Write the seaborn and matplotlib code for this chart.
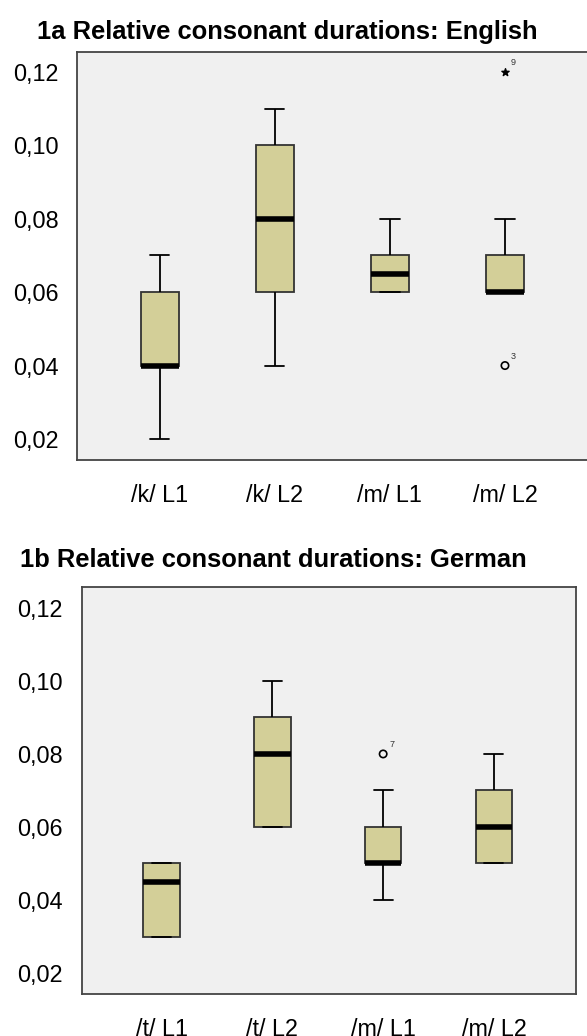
import pandas as pd
import seaborn as sns
import matplotlib.pyplot as plt
import matplotlib.ticker as ticker

# relative consonant durations per group
en_groups = ['/k/ L1', '/k/ L2', '/m/ L1', '/m/ L2']
en_k_l1 = [0.02, 0.04, 0.04, 0.04, 0.06, 0.06, 0.07]
en_k_l2 = [0.04, 0.06, 0.06, 0.08, 0.10, 0.10, 0.11]
en_m_l1 = [0.06, 0.06, 0.06, 0.06, 0.07, 0.07, 0.07, 0.08]
en_m_l2 = [0.04, 0.06, 0.06, 0.06, 0.06, 0.07, 0.07, 0.08, 0.12]

de_groups = ['/t/ L1', '/t/ L2', '/m/ L1', '/m/ L2']
de_t_l1 = [0.03, 0.03, 0.03, 0.04, 0.05, 0.05, 0.05, 0.05]
de_t_l2 = [0.06, 0.06, 0.06, 0.08, 0.09, 0.09, 0.10]
de_m_l1 = [0.04, 0.05, 0.05, 0.05, 0.05, 0.06, 0.06, 0.07, 0.08]
de_m_l2 = [0.05, 0.05, 0.05, 0.06, 0.07, 0.07, 0.08]

# points SPSS flags with case numbers: (group, value, case, extreme)
en_flagged = [('/m/ L2', 0.12, '9', True), ('/m/ L2', 0.04, '3', False)]
de_flagged = [('/m/ L1', 0.08, '7', False)]

yticks = [0.02, 0.04, 0.06, 0.08, 0.10, 0.12]


def long_df(groups, series):
    rows = []
    for g, vals in zip(groups, series):
        rows += [(g, v) for v in vals]
    return pd.DataFrame(rows, columns=['group', 'duration'])


df_en = long_df(en_groups, [en_k_l1, en_k_l2, en_m_l1, en_m_l2])
df_de = long_df(de_groups, [de_t_l1, de_t_l2, de_m_l1, de_m_l2])

sns.set_style('white')
plt.rcParams['font.family'] = ['Liberation Sans', 'DejaVu Sans']
plt.rcParams['text.color'] = 'black'

fig = plt.figure(figsize=(5.87, 10.36), dpi=100)
ax1 = fig.add_axes([0.132, 0.556, 0.875, 0.394])
ax2 = fig.add_axes([0.139, 0.0405, 0.842, 0.393])

comma = ticker.FuncFormatter(lambda v, p: f'{v:.2f}'.replace('.', ','))


def draw(ax, df, groups, flagged, xlim, ylim):
    ax.set_facecolor('#f0f0f0')
    sns.boxplot(ax=ax, data=df, x='group', y='duration', order=groups,
                width=0.33, color='#d3cf98', saturation=1, showfliers=False,
                linecolor='black', linewidth=1.3,
                boxprops=dict(edgecolor='#333333'),
                medianprops=dict(color='black', linewidth=4, solid_capstyle='butt'),
                capwidths=0.17)
    for g, v, case, extreme in flagged:
        x = groups.index(g)
        if extreme:
            ax.scatter([x], [v], marker='*', s=30, color='black', zorder=5)
        else:
            ax.scatter([x], [v], marker='o', s=28, facecolor='none',
                       edgecolor='black', linewidth=1.2, zorder=5)
        ax.annotate(case, (x, v), xytext=(4.3, 5), textcoords='offset points',
                    fontsize=6.5, color='#333333')
    ax.set_xlim(*xlim)
    ax.set_ylim(*ylim)
    ax.set_yticks(yticks)
    ax.yaxis.set_major_formatter(comma)
    ax.set_xlabel('')
    ax.set_ylabel('')
    for s in ax.spines.values():
        s.set_color('#444444')
        s.set_linewidth(1.3)
    ax.tick_params(axis='y', length=12.5, width=1, color='#444444', pad=1,
                   labelsize=16.8, labelcolor='black')
    ax.tick_params(axis='x', length=13, width=1, color='#444444', pad=4,
                   labelsize=16.8, labelcolor='black')


draw(ax1, df_en, en_groups, en_flagged, (-0.713, 3.748), (0.01428, 0.12545))
draw(ax2, df_de, de_groups, de_flagged, (-0.723, 3.74), (0.01425, 0.12575))

fig.text(37 / 587, 1 - 39 / 1036, '1a Relative consonant durations: English',
         fontsize=18.4, fontweight='bold', va='baseline', color='black')
fig.text(20 / 587, 1 - 567 / 1036, '1b Relative consonant durations: German',
         fontsize=18.4, fontweight='bold', va='baseline', color='black')

fig.savefig('out.png', dpi=100)
